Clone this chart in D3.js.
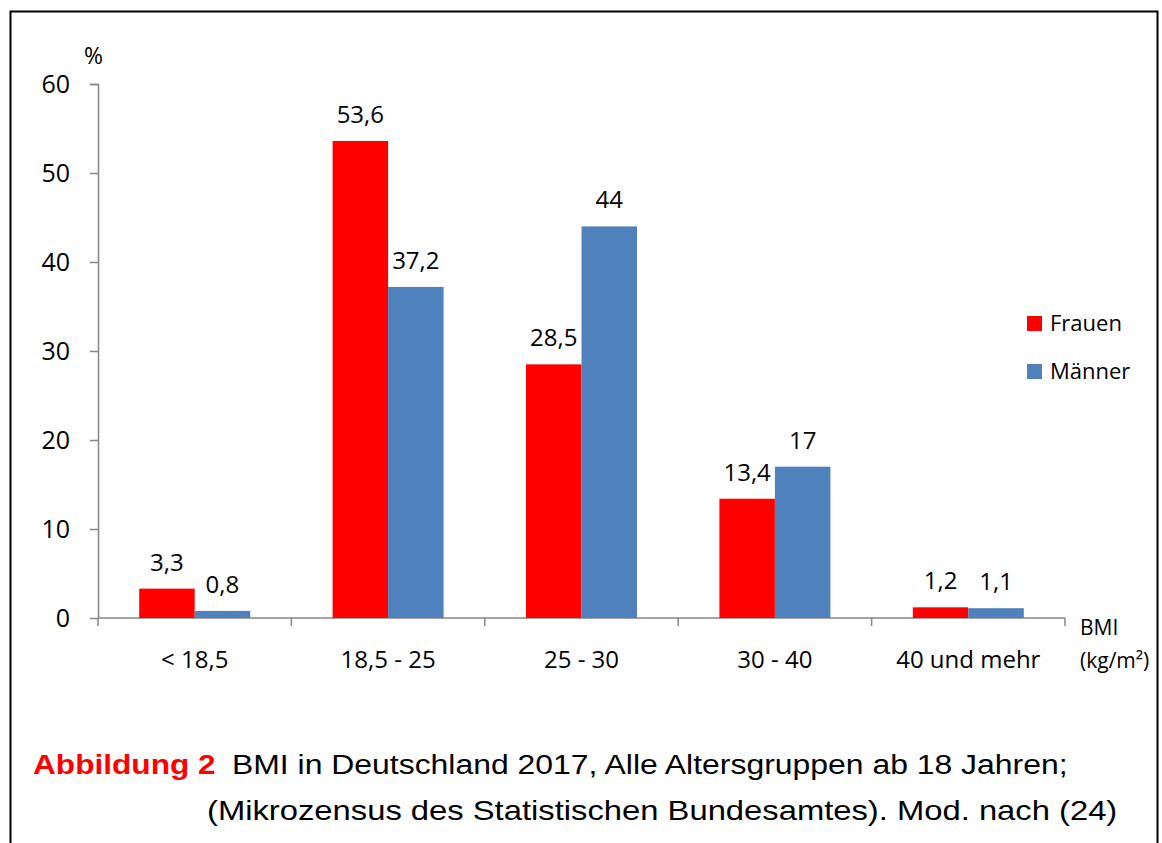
<!DOCTYPE html>
<html>
<head>
<meta charset="utf-8">
<script src="https://cdn.jsdelivr.net/npm/d3@7"></script>
<style>
  body { margin: 0; background: #fff; }
  svg text { font-family: "Open Sans", "Noto Sans", sans-serif; }
  .caption text { font-family: "Liberation Sans", Arial, sans-serif; }
</style>
</head>
<body>
<div id="chart"></div>
<script>
const categories = ["< 18,5", "18,5 - 25", "25 - 30", "30 - 40", "40 und mehr"];
const seriesNames = ["Frauen", "Männer"];
const frauen = [3.3, 53.6, 28.5, 13.4, 1.2];
const maenner = [0.8, 37.2, 44, 17, 1.1];
const yTicks = [0, 10, 20, 30, 40, 50, 60];
const colors = ["#ff0000", "#4f81bd"];

const width = 1162, height = 843;
const margin = { top: 84, right: 97, bottom: 225, left: 98 }; // plot 98..1065, 84..618

const svg = d3.select('#chart').append('svg')
  .attr('width', width)
  .attr('height', height);

// rahmen, unten laeuft er aus dem bild
svg.append('path')
  .attr('d', `M10.5,${height + 2} V11.5 H1157.5 V${height + 2}`)
  .attr('fill', 'none')
  .attr('stroke', '#000')
  .attr('stroke-width', 2);

const innerWidth = width - margin.left - margin.right;
const innerHeight = height - margin.top - margin.bottom;

const g = svg.append('g').attr('transform', `translate(${margin.left},${margin.top})`);

const x0 = d3.scaleBand().domain(categories).range([0, innerWidth]);
const x1 = d3.scaleBand().domain(seriesNames).range([0, 111]);
const y = d3.scaleLinear().domain([0, 60]).range([innerHeight, 0]);

const fmt = v => String(v).replace('.', ',');

// y achse
const yAxis = g.append('g')
  .call(d3.axisLeft(y).tickValues(yTicks).tickSize(8).tickPadding(20).tickFormat(d => d));
yAxis.selectAll('line, path').attr('stroke', '#868686').attr('stroke-width', 1.5);
yAxis.selectAll('text').style('font-size', '25px').style('fill', '#000');
yAxis.select('.domain').attr('d', `M-8,0.5H0.5V${innerHeight}`);

// x achse
const xAxis = g.append('g')
  .attr('transform', `translate(0,${innerHeight})`)
  .call(d3.axisBottom(x0).tickSize(0).tickPadding(33));
xAxis.selectAll('line').remove();
xAxis.select('.domain').attr('stroke', '#868686').attr('stroke-width', 1.5)
  .attr('d', `M0,0H${innerWidth}`);
xAxis.selectAll('text').style('font-size', '24px').style('fill', '#000');
const boundaries = d3.range(categories.length + 1).map(i => i * x0.step());
xAxis.selectAll('.sep').data(boundaries).enter().append('line')
  .attr('x1', d => d).attr('x2', d => d)
  .attr('y1', 0).attr('y2', 8)
  .attr('stroke', '#868686').attr('stroke-width', 1.5);

// balken
const rows = categories.map((c, i) => ({ cat: c, vals: [frauen[i], maenner[i]] }));
const groups = g.selectAll('.grp').data(rows).enter().append('g')
  .attr('transform', d => `translate(${x0(d.cat) + (x0.bandwidth() - 111) / 2},0)`);

groups.selectAll('rect').data(d => d.vals.map((v, k) => ({ v, k })))
  .enter().append('rect')
  .attr('x', d => x1(seriesNames[d.k]))
  .attr('y', d => y(d.v))
  .attr('width', x1.bandwidth())
  .attr('height', d => innerHeight - y(d.v))
  .attr('fill', d => colors[d.k]);

groups.selectAll('.lbl').data(d => d.vals.map((v, k) => ({ v, k })))
  .enter().append('text')
  .attr('x', d => x1(seriesNames[d.k]) + x1.bandwidth() / 2)
  .attr('y', d => y(d.v) - 18)
  .attr('text-anchor', 'middle')
  .style('font-size', '24px')
  .text(d => fmt(d.v));

// achsentitel
svg.append('text').attr('x', 84).attr('y', 64).style('font-size', '23px').text('%');
svg.append('text').attr('x', 1080).attr('y', 635).style('font-size', '21px').text('BMI');
svg.append('text').attr('x', 1080).attr('y', 668).style('font-size', '21px').text('(kg/m²)');

// legende
const legend = svg.append('g').attr('transform', 'translate(1027,316)');
seriesNames.forEach((s, i) => {
  const row = legend.append('g').attr('transform', `translate(0,${i * 48})`);
  row.append('rect').attr('width', 15).attr('height', 15).attr('fill', colors[i]);
  row.append('text').attr('x', 23).attr('y', 15).style('font-size', '22px').text(s);
});

// bildunterschrift
const cap = svg.append('g').attr('class', 'caption');
const capLine = (x, yy, sx, txt) => cap.append('text')
  .attr('transform', `translate(${x},${yy}) scale(${sx},1)`)
  .style('font-size', '28px')
  .text(txt);
capLine(33, 774, 1.13, 'Abbildung 2').style('font-weight', 'bold').style('fill', '#ff0000');
capLine(232, 774, 1.14, 'BMI in Deutschland 2017, Alle Altersgruppen ab 18 Jahren;');
capLine(207, 820, 1.17, '(Mikrozensus des Statistischen Bundesamtes). Mod. nach (24)');
</script>
</body>
</html>
